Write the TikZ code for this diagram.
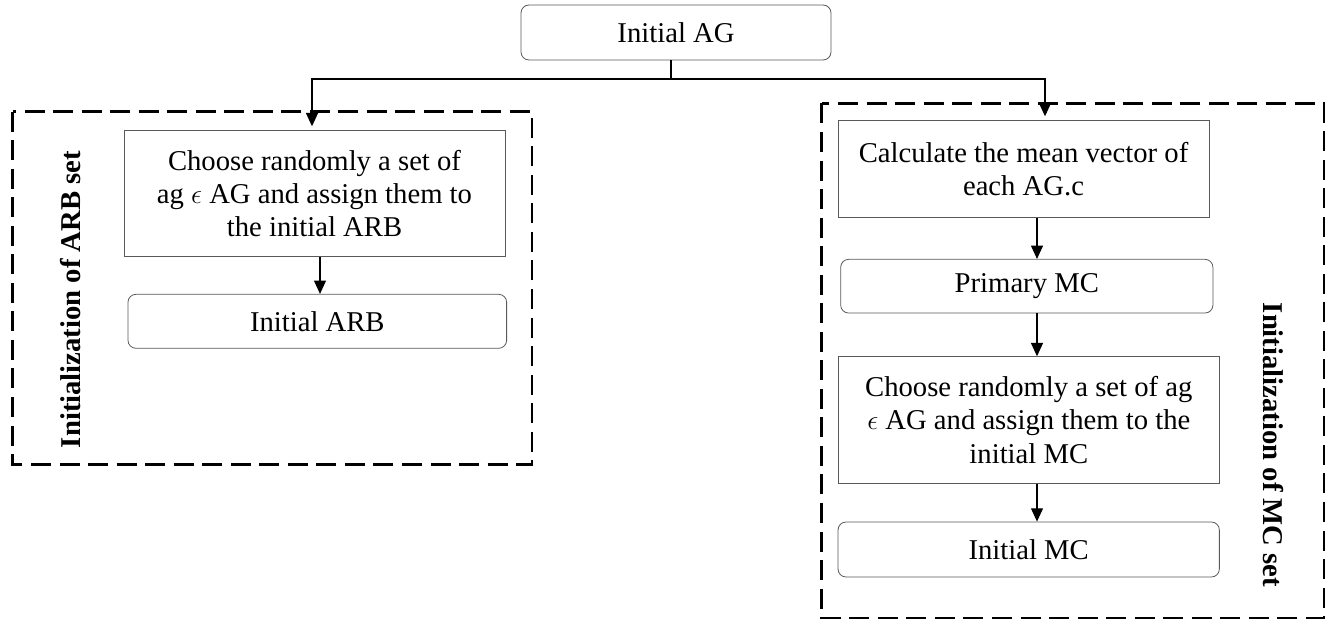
\documentclass[tikz,border=0pt]{standalone}
\usepackage{fontspec}
\setmainfont{Liberation Serif}
\usetikzlibrary{arrows.meta}

\begin{document}
\begin{tikzpicture}[x=0.75pt,y=0.75pt,yscale=-1,xscale=1,
  every node/.style={font=\fontsize{21.5}{25}\selectfont, inner sep=0.75pt},
  plainbox/.style={draw=black!65, line width=0.6pt, align=center},
  roundbox/.style={plainbox, rounded corners=6pt},
  groupbox/.style={line width=2.2pt, dash pattern=on 15pt off 6.4pt},
  flow/.style={line width=0.9pt, -{Triangle[length=10pt,width=9pt]}},
  grouplabel/.style={font=\bfseries\fontsize{21.5}{25}\selectfont}]
\useasboundingbox (0,0) rectangle (1335,623);

%Dashed groups
\draw[groupbox] (12.7,111.7) rectangle (532,464.3);
\draw[groupbox] (821.7,103.5) rectangle (1324,618);

% Top node
\node[roundbox, minimum width=232.5pt, minimum height=41.25pt] (initag) at (676,32.5) {Initial AG};

% ARB side
\node[plainbox, minimum width=285.75pt, minimum height=94.5pt] (arbchoose) at (314.5,193.7) {Choose randomly a set of\\ ag $\epsilon$ AG and assign them to\\ the initial ARB};
\node[roundbox, minimum width=284pt, minimum height=40.5pt] (arbinit) at (317.3,321.3) {Initial ARB};
\node[grouplabel, rotate=90] (arblabel) at (70.5,299.5) {Initialization of ARB set};

% MC side
\node[plainbox, minimum width=278.25pt, minimum height=72.75pt] (mcmean) at (1023.5,169.2) {Calculate the mean vector of\\ each AG.c};
\node[roundbox, minimum width=279.2pt, minimum height=40.3pt] (mcprim) at (1026.8,286.2) {Primary MC};
\node[plainbox, minimum width=285.75pt, minimum height=95pt] (mcchoose) at (1028.8,420) {Choose randomly a set of ag\\ $\epsilon$ AG and assign them to the\\ initial MC};
\node[roundbox, minimum width=286pt, minimum height=41.25pt] (mcinit) at (1028.7,549.5) {Initial MC};
\node[grouplabel, rotate=-90] (mclabel) at (1273.5,445) {Initialization of MC set};

% Connectors
\coordinate (bus) at (671,79);
\coordinate (arbtop) at (312,0);
\coordinate (arbcol) at (320,0);
\coordinate (mctop) at (1045,0);
\coordinate (mccol) at (1037,0);
\draw[line width=0.9pt] (initag.south -| bus) -- (bus);
\draw[flow, shorten >=3pt] (bus) -| (arbchoose.north -| arbtop);
\draw[flow, shorten >=3pt] (bus) -| (mcmean.north -| mctop);
\draw[flow] (arbchoose.south -| arbcol) -- (arbinit.north -| arbcol);
\draw[flow] (mcmean.south -| mccol) -- (mcprim.north -| mccol);
\draw[flow] (mcprim.south -| mccol) -- (mcchoose.north -| mccol);
\draw[flow] (mcchoose.south -| mccol) -- (mcinit.north -| mccol);

\end{tikzpicture}
\end{document}
